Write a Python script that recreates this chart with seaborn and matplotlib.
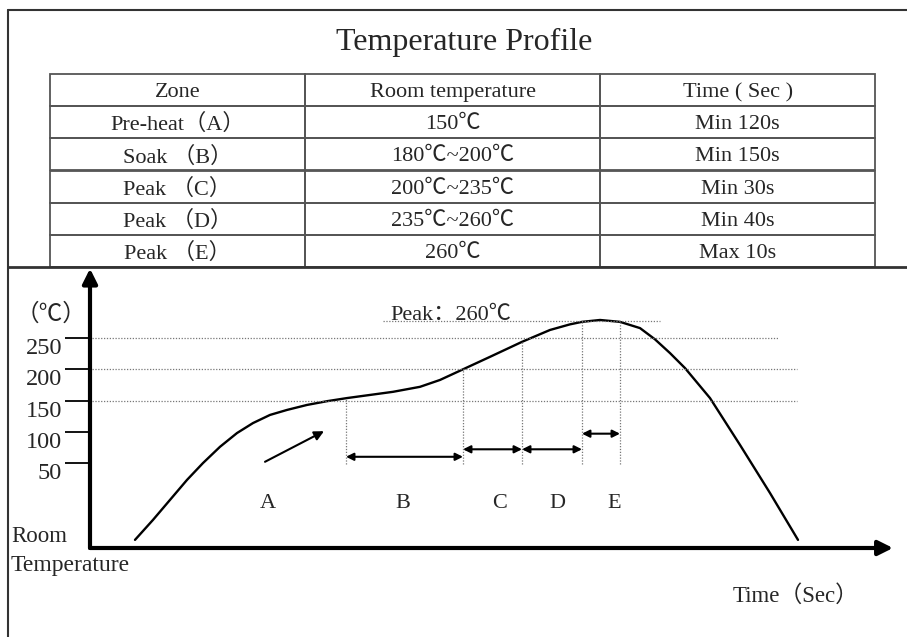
import matplotlib
matplotlib.use("Agg")
import matplotlib.pyplot as plt
import seaborn as sns
import pandas as pd

# ---- data ----
title = "Temperature Profile"
header = ["Zone", "Room temperature", "Time ( Sec )"]
zones = ["Pre-heat（A）", "Soak （B）", "Peak （C）", "Peak （D）", "Peak （E）"]
temps = ["150℃", "180℃~200℃", "200℃~235℃", "235℃~260℃", "260℃"]
times = ["Min 120s", "Min 150s", "Min 30s", "Min 40s", "Max 10s"]

# schematic reflow curve (time units, temperature units of the drawn axis)
time_s = [45, 63, 80, 97, 113, 130, 147, 163, 180, 197, 217, 237, 257,
          280, 303, 330, 350, 373, 400, 432, 460, 480, 492, 510, 530,
          550, 565, 580, 595, 620, 650, 680, 708]
temp_c = [-73, -41, -9, 23, 50, 76, 98, 114, 127, 135, 143, 149, 154,
          159, 164, 172, 183, 200, 220, 244, 263, 272, 276, 279, 276,
          266, 248, 226, 202, 154, 79, 2, -73]

y_ticks = [250, 200, 150, 100, 50]
guide_levels = [250, 200, 150]
guide_end = [688, 707, 707]
peak_level = 278
peak_span = [293, 570]

zone_letters = ["A", "B", "C", "D", "E"]
letter_x = [178, 313, 410, 467, 524]
letter_y = -14
zone_edges = [256, 373, 432, 492, 530]
zone_tops = [154, 200, 244, 276, 276]
span_levels = [60, 72, 72, 97]   # B, C, D, E double arrows
ramp_arrow = [(175, 52), (234, 101)]

sns.set_theme(style="white")
plt.rcParams["font.family"] = ["Liberation Serif", "Noto Sans CJK SC", "DejaVu Sans"]

W, H = 907, 637
fig = plt.figure(figsize=(W / 100, H / 100), dpi=100)

# background: frame, title, table (pixel coordinates)
bg = fig.add_axes([0, 0, 1, 1])
bg.set_xlim(0, W)
bg.set_ylim(H, 0)
bg.axis("off")
bg.axvline(8, ymin=0, ymax=1 - 10 / H, color="#333333", lw=1.5)
bg.axhline(10, xmin=8 / W, xmax=1, color="#333333", lw=1.5)
bg.axhline(267, xmin=8 / W, xmax=1, color="#333333", lw=2)
bg.text(464, 42, title, ha="center", va="center", fontsize=23)

cells = [[z, t, s] for z, t, s in zip(zones, temps, times)]
tbl = bg.table(cellText=cells, colLabels=header, cellLoc="center",
               colWidths=[255, 296, 275],
               bbox=[50 / W, 1 - 267 / H, 825 / W, (267 - 74) / H])
tbl.auto_set_font_size(False)
tbl.set_fontsize(16)
for cell in tbl.get_celld().values():
    cell.set_edgecolor("#555555")
    cell.set_linewidth(1.3)
    cell.set_facecolor("none")
    cell.get_text().set_va("center_baseline")

bg.text(11, 537, "Room", ha="left", va="center", fontsize=16.5)
bg.text(11, 566, "Temperature", ha="left", va="center", fontsize=17)
bg.text(733, 596, "Time（Sec）", ha="left", va="center", fontsize=16.5)

# chart
ax = fig.add_axes([90 / W, 1 - 548 / H, (893 - 90) / W, (548 - 270) / H])
ax.patch.set_alpha(0)
ax.set_xlim(0, 803)
ax.set_ylim(-86, 359)
for sp in ax.spines.values():
    sp.set_visible(False)

df = pd.DataFrame({"time": time_s, "temp": temp_c})
sns.lineplot(data=df, x="time", y="temp", ax=ax, color="black", lw=1.7,
             sort=False)
ax.set_xlabel("")
ax.set_ylabel("")
ax.set_xticks([])
ax.set_yticks(y_ticks)
ax.set_yticklabels([str(v) for v in y_ticks], fontsize=17.5)
ax.tick_params(axis="y", direction="out", length=18, width=1.3,
               color="black", pad=2, left=True)
for lbl in ax.get_yticklabels():
    lbl.set_va("top")

# axis arrows
arrow_kw = dict(arrowstyle="-|>", lw=3, color="black", mutation_scale=22,
                shrinkA=0, shrinkB=0)
ax.annotate("", xy=(1, 0), xytext=(0, 0), xycoords="axes fraction",
            arrowprops=arrow_kw)
ax.annotate("", xy=(0, 1.005), xytext=(0, 0), xycoords="axes fraction",
            arrowprops=arrow_kw)

dot = dict(color="#777777", lw=0.9, linestyle=(0, (1, 1.3)))
ax.hlines(guide_levels, 2, guide_end, **dot)
ax.hlines(peak_level, peak_span[0], peak_span[1], **dot)
ax.vlines(zone_edges, 48, zone_tops, **dot)

span_kw = dict(arrowstyle="<|-|>", lw=1.5, color="black", mutation_scale=11,
               shrinkA=0, shrinkB=0)
for i, lvl in enumerate(span_levels):
    ax.annotate("", xy=(zone_edges[i + 1], lvl), xytext=(zone_edges[i], lvl),
                arrowprops=span_kw)
ax.annotate("", xy=ramp_arrow[1], xytext=ramp_arrow[0],
            arrowprops=dict(arrowstyle="-|>", lw=1.5, color="black",
                            mutation_scale=14, shrinkA=0, shrinkB=0))

for lt, lx in zip(zone_letters, letter_x):
    ax.text(lx, letter_y, lt, ha="center", va="center", fontsize=16)
ax.text(300, peak_level + 1, "Peak：260℃", ha="left", va="baseline",
        fontsize=16)
ax.text(-74, 288, "（℃）", ha="left", va="center", fontsize=17,
        clip_on=False)

fig.savefig("out.png", dpi=100)
